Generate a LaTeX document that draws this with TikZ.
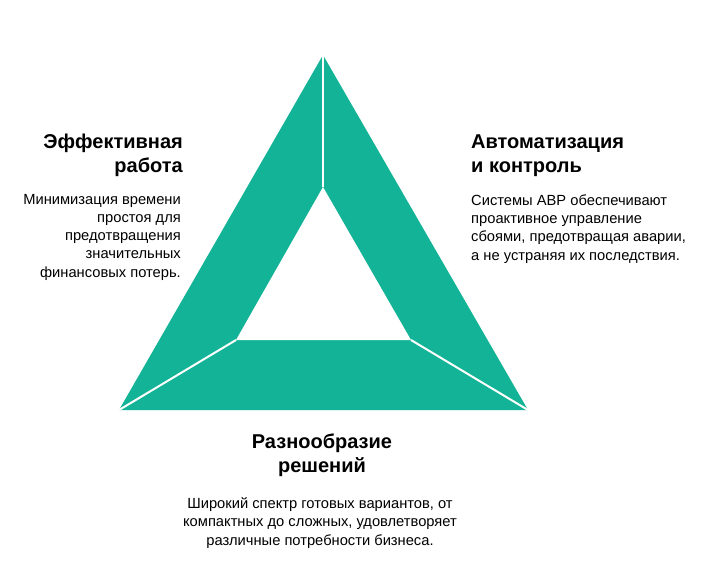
\documentclass[tikz,border=0pt]{standalone}
\usepackage{fontspec}
\setmainfont{Liberation Sans}
\usepackage{xcolor}
\definecolor{myteal}{RGB}{18, 179, 150}
\usetikzlibrary{positioning}

\begin{document}
\begin{tikzpicture}[
  x=1pt, y=-1pt,
  title/.style={font=\fontsize{20}{23.5}\selectfont\bfseries, inner sep=0pt},
  body/.style={font=\fontsize{14.7}{18.2}\selectfont, inner sep=0pt},
  gap/.style={white, line width=2pt}
]
\useasboundingbox (0,0) rectangle (703,576);

% outer and inner corners
\coordinate (top)  at (323,55);
\coordinate (left) at (119,410);
\coordinate (right) at (528,410);
\coordinate (itop)  at (323,187);
\coordinate (ileft) at (236,340);
\coordinate (iright) at (411,340);

\fill[myteal] (top) -- (right) -- (left) -- cycle;
\fill[white] (itop) -- (iright) -- (ileft) -- cycle;
\draw[gap] (top) -- (itop);
\draw[gap] (left) -- (ileft);
\draw[gap] (right) -- (iright);

% texts (base = last line)
\node (worktitle) [title, align=right, anchor=base east] at (183,172) {Эффективная\\работа};
\node (worktext)  [body, align=right, anchor=base east] at (181,277)
  {Минимизация времени\\простоя для\\предотвращения\\значительных\\финансовых потерь.};

\node (autotitle) [title, align=left, anchor=base west] at (471,172) {Автоматизация\\и контроль};
\node (autotext)  [body, align=left, anchor=base west] at (471,260)
  {Системы АВР обеспечивают\\проактивное управление\\сбоями, предотвращая аварии,\\а не устраняя их последствия.};

\node (vartitle) [title, align=center, anchor=base] at (322,472) {Разнообразие\\решений};
\node (vartext)  [body, align=center, anchor=base] at (320,545)
  {Широкий спектр готовых вариантов, от\\компактных до сложных, удовлетворяет\\различные потребности бизнеса.};

\end{tikzpicture}
\end{document}
